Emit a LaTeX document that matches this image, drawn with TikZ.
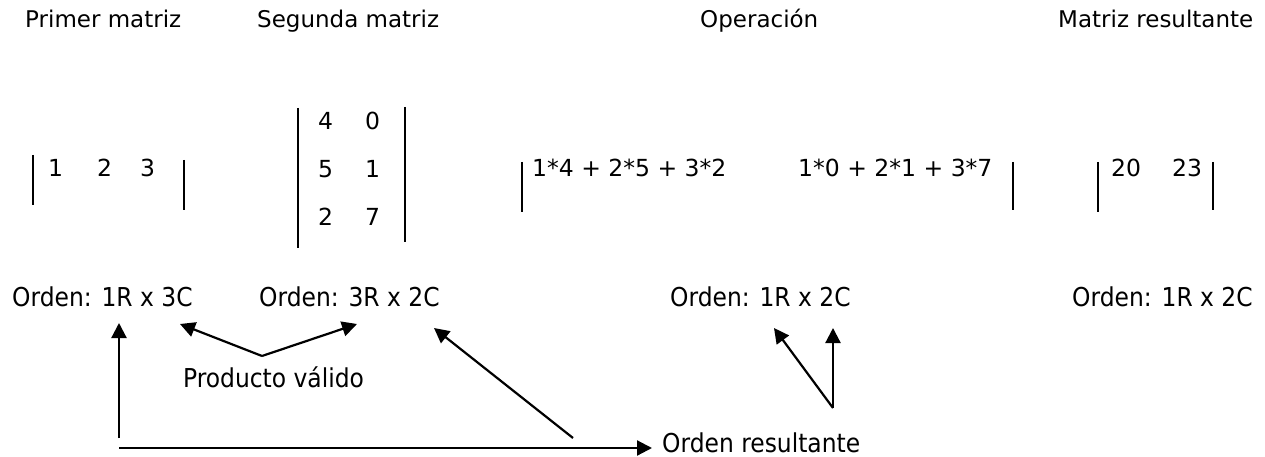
\documentclass[tikz,border=0pt]{standalone}
\usepackage{fontspec}
\setmainfont{DejaVu Sans}
\newfontfamily\condensada{DejaVu Sans Condensed}
\usetikzlibrary{arrows.meta}

\begin{document}
\begin{tikzpicture}[x=1pt,y=-1pt,
    every node/.style={inner sep=0pt,anchor=base west},
    titulo/.style={font=\fontsize{23}{27}\selectfont},
    num/.style={font=\fontsize{23.5}{27}\selectfont},
    orden/.style={font=\condensada\fontsize{26}{30}\selectfont},
    barra/.style={line width=1.8pt},
    flecha/.style={line width=2.2pt,-{Triangle[length=15pt,width=15pt]}}]
  \useasboundingbox (0,0) rectangle (1265,457);

  % titulos
  \node[titulo] (primer) at (25,28) {Primer matriz};
  \node[titulo] (segunda) at (257,28) {Segunda matriz};
  \node[titulo] (operacion) at (700,28) {Operación};
  \node[titulo] (resultante) at (1058,28) {Matriz resultante};

  % primer matriz
  \draw[barra] (33,155) -- (33,205);
  \draw[barra] (184,160) -- (184,210);
  \foreach \v/\x [count=\i] in {1/48,2/97,3/140}
    \node[num] (a\i) at (\x,176) {\v};

  % segunda matriz
  \draw[barra] (298,108) -- (298,248);
  \draw[barra] (405,107) -- (405,242);
  \foreach \u/\w/\y [count=\i] in {4/0/130,5/1/178,2/7/225} {
    \node[num] (b\i1) at (318,\y) {\u};
    \node[num] (b\i2) at (365,\y) {\w};
  }

  % operacion
  \draw[barra] (522,162) -- (522,212);
  \draw[barra] (1013,162) -- (1013,210);
  \node[num] (op1) at (532,177) {1*4 + 2*5 + 3*2};
  \node[num] (op2) at (798,177) {1*0 + 2*1 + 3*7};

  % matriz resultante
  \draw[barra] (1098,162) -- (1098,212);
  \draw[barra] (1213,162) -- (1213,210);
  \node[num] (c1) at (1111,177) {20};
  \node[num] (c2) at (1172,177) {23};

  % ordenes
  \node[orden] (ord1) at (12,306) {Orden: 1R x 3C};
  \node[orden] (ord2) at (259,306) {Orden: 3R x 2C};
  \node[orden] (ord3) at (670,306) {Orden: 1R x 2C};
  \node[orden] (ord4) at (1072,306) {Orden: 1R x 2C};
  \node[orden] (valido) at (183,387) {Producto válido};
  \node[orden] (ordres) at (662,452) {Orden resultante};

  % flechas
  \coordinate (pv) at (262,356);
  \coordinate (pvi) at (180,324);
  \coordinate (pvd) at (357,324);
  \coordinate (esq) at (119,448);
  \coordinate (fila) at (119,323);
  \coordinate (colb) at (573,438);
  \coordinate (colt) at (434,328);
  \coordinate (opb) at (833,408);
  \coordinate (opi) at (774,328);
  \coordinate (opd) at (833,328);

  \draw[flecha] ([yshift=10pt]esq) -- (fila);
  \draw[flecha] (esq) -- ([xshift=-10pt]esq -| ordres.west);
  \draw[flecha] (pv) -- (pvi);
  \draw[flecha] (pv) -- (pvd);
  \draw[flecha] (colb) -- (colt);
  \draw[flecha] (opb) -- (opi);
  \draw[flecha] (opb) -- (opd);
\end{tikzpicture}
\end{document}
